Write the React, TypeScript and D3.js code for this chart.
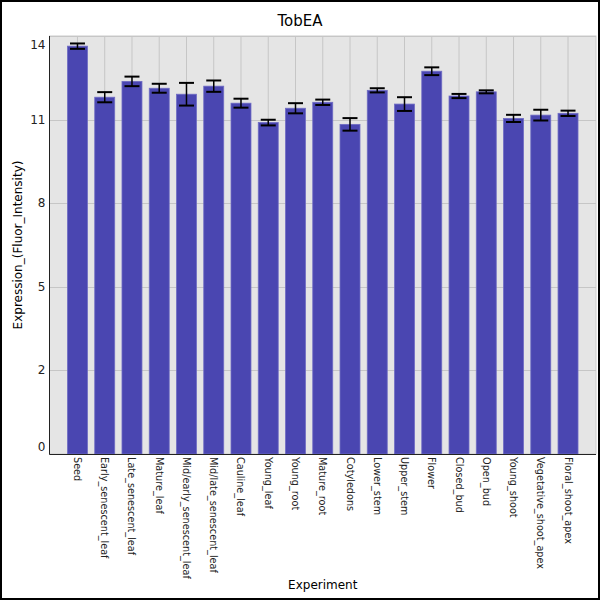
import React from 'react';
import * as d3 from 'd3';

const title = 'TobEA';
const xAxisLabel = 'Experiment';
const yAxisLabel = 'Expression_(Fluor_Intensity)';

const categories = [
  'Seed', 'Early_senescent_leaf', 'Late_senescent_leaf', 'Mature_leaf',
  'Mid/early_senescent_leaf', 'Mid/late_senescent_leaf', 'Cauline_leaf',
  'Young_leaf', 'Young_root', 'Mature_root', 'Cotyledons', 'Lower_stem',
  'Upper_stem', 'Flower', 'Closed_bud', 'Open_bud', 'Young_shoot',
  'Vegetative_shoot_apex', 'Floral_shoot_apex',
];
const means = [
  13.66, 11.95, 12.48, 12.25, 12.05, 12.32, 11.75, 11.10, 11.58, 11.78,
  11.04, 12.18, 11.72, 12.82, 11.99, 12.13, 11.24, 11.35, 11.41,
];
const errors = [
  0.09, 0.17, 0.16, 0.15, 0.38, 0.19, 0.15, 0.095, 0.17, 0.09,
  0.21, 0.07, 0.23, 0.13, 0.07, 0.05, 0.12, 0.18, 0.09,
];
const yTickValues = [0, 2.8, 5.6, 8.4, 11.2, 14];
const yTickLabels = ['0', '2', '5', '8', '11', '14'];

const W = 600;
const H = 600;
const plot = { left: 49.5, right: 596, top: 36, bottom: 454 };
const font = '"DejaVu Sans", sans-serif';

const App: React.FC = () => {
  const x = d3.scaleBand<string>()
    .domain(categories)
    .range([plot.left, plot.right])
    .paddingInner(0.267)
    .paddingOuter(0.66);

  const y = d3.scaleLinear()
    .domain([0, 14])
    .range([plot.bottom, plot.top]);

  const bw = x.bandwidth();
  const capW = bw * 0.75;

  return (
    <div style={{ position: 'absolute', left: 0, top: 0 }}>
      <svg width={W} height={H} style={{ display: 'block', fontFamily: font }}>
        <rect x={0} y={0} width={W} height={H} fill="#ffffff" />

        {/* plot area */}
        <rect x={plot.left} y={plot.top} width={plot.right - plot.left} height={plot.bottom - plot.top}
          fill="#e5e5e5" stroke="#cccccc" strokeWidth={1} />

        {yTickValues.map((v, i) => (
          <line key={'hg' + i} x1={plot.left} x2={plot.right} y1={Math.round(y(v)) + 0.5} y2={Math.round(y(v)) + 0.5}
            stroke="#c6c6c6" strokeWidth={1} />
        ))}
        {categories.map(c => {
          const cx = x(c)! + bw / 2;
          return (
            <line key={'vg' + c} x1={cx} x2={cx} y1={plot.top} y2={plot.bottom} stroke="#c6c6c6" strokeWidth={1} />
          );
        })}

        {/* bars */}
        {categories.map((c, i) => (
          <rect key={'b' + c} x={x(c)!} y={y(means[i])} width={bw} height={y(0) - y(means[i])}
            fill="#4a46b1" stroke="#6f6cc4" strokeWidth={0.8} />
        ))}

        {/* error bars */}
        {categories.map((c, i) => {
          const cx = x(c)! + bw / 2;
          const hi = y(means[i] + errors[i]);
          const lo = y(means[i] - errors[i]);
          return (
            <g key={'e' + c} stroke="#000000">
              <line x1={cx} x2={cx} y1={hi} y2={lo} strokeWidth={1.5} />
              <line x1={cx - capW / 2} x2={cx + capW / 2} y1={hi} y2={hi} strokeWidth={2} />
              <line x1={cx - capW / 2} x2={cx + capW / 2} y1={lo} y2={lo} strokeWidth={2} />
            </g>
          );
        })}

        {/* axes */}
        <line x1={plot.left} x2={plot.left} y1={plot.top} y2={plot.bottom + 0.5} stroke="#222222" strokeWidth={1} />
        <line x1={plot.left} x2={plot.right} y1={plot.bottom + 0.5} y2={plot.bottom + 0.5} stroke="#222222" strokeWidth={1} />

        {yTickValues.map((v, i) => {
          const ty = Math.min(Math.max(y(v), plot.top + 9), plot.bottom - 7);
          return (
            <text key={'yl' + i} x={45.5} y={ty} textAnchor="end" dominantBaseline="central"
              fontSize={12} fill="#222222">{yTickLabels[i]}</text>
          );
        })}

        {categories.map(c => {
          const cx = x(c)! + bw / 2;
          return (
            <text key={'xl' + c} transform={`translate(${cx},${plot.bottom + 3}) rotate(90)`}
              textAnchor="start" dominantBaseline="central" fontSize={9.7} fill="#222222">{c}</text>
          );
        })}

        {/* titles */}
        <text x={W / 2} y={26} textAnchor="middle" fontSize={15} fill="#000000">{title}</text>
        <text x={(plot.left + plot.right) / 2} y={589} textAnchor="middle" fontSize={12} fill="#000000">{xAxisLabel}</text>
        <text transform={`translate(22,${(plot.top + plot.bottom) / 2}) rotate(-90)`} textAnchor="middle"
          fontSize={12} fill="#000000">{yAxisLabel}</text>

        <rect x={1} y={1} width={W - 2} height={H - 2} fill="none" stroke="#000000" strokeWidth={2} />
      </svg>
    </div>
  );
};

export default App;
